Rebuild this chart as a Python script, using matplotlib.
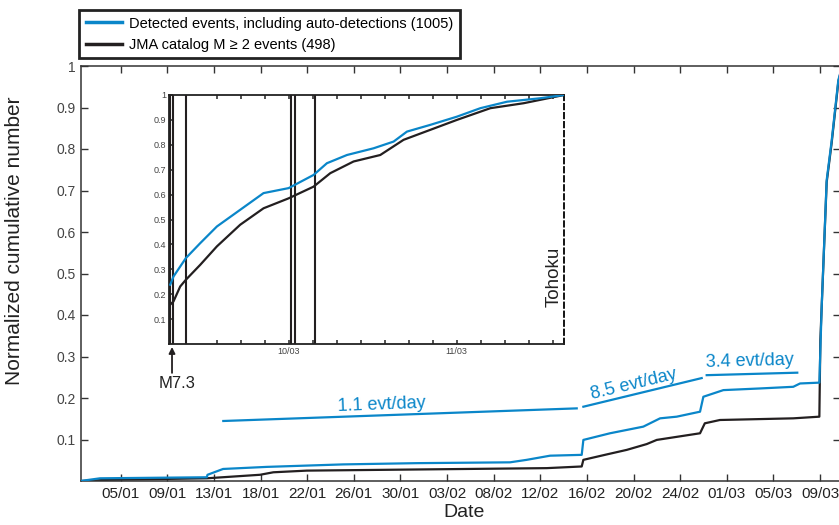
import matplotlib.pyplot as plt
import numpy as np

plt.rcParams['font.family'] = ['Liberation Sans', 'DejaVu Sans']

blue = '#0a86c9'
black = '#231f20'

# main panel: time in days (1 Jan 2011 = 1), normalized cumulative number
det_day = [1.36, 3.14, 12.75, 12.82, 14.22, 18.15, 25.03, 31.67, 40.07, 41.58,
           43.68, 46.53, 46.68, 49.08, 52.08, 53.59, 55.09, 57.19, 57.49, 59.29,
           62.59, 65.59, 66.2, 67.94, 68.15, 68.6, 69.05, 69.65, 70.0]
det_val = [0.0, 0.0065, 0.009, 0.015, 0.029, 0.034, 0.040, 0.043, 0.045, 0.051,
           0.061, 0.063, 0.099, 0.115, 0.131, 0.151, 0.155, 0.167, 0.203, 0.219,
           0.223, 0.227, 0.235, 0.237, 0.42, 0.725, 0.82, 0.966, 1.0]
jma_day = [1.36, 4.04, 12.75, 17.55, 18.75, 21.76, 43.38, 46.53, 46.68, 48.78,
           50.59, 52.39, 53.29, 57.19, 57.62, 58.98, 65.59, 67.94, 68.03, 68.6,
           69.05, 69.65, 70.0]
jma_val = [0.0, 0.003, 0.0065, 0.015, 0.021, 0.025, 0.031, 0.035, 0.051, 0.064,
           0.075, 0.089, 0.099, 0.115, 0.139, 0.147, 0.151, 0.155, 0.34, 0.72,
           0.815, 0.962, 1.0]

date_labels = ['05/01', '09/01', '13/01', '18/01', '22/01', '26/01', '30/01', '03/02',
               '08/02', '12/02', '16/02', '20/02', '24/02', '01/03', '05/03', '09/03']
date_ticks = 5 + 4.2 * np.arange(len(date_labels))

# rate fits drawn on the main panel
rate_labels = ['1.1 evt/day', '8.5 evt/day', '3.4 evt/day']
rate_day = [(14.24, 46.08), (46.68, 57.34), (57.79, 65.95)]
rate_val = [(0.1446, 0.175), (0.179, 0.248), (0.255, 0.261)]
rate_txt_pos = [(28.5, 0.184), (51.2, 0.232), (61.7, 0.289)]
rate_txt_rot = [2.1, 13.5, 1.5]

# inset: hours after 9 March 00:00
ins_det_h = [7.10, 7.57, 9.34, 11.39, 13.77, 17.10, 20.43, 24.01, 27.58, 29.48,
             32.34, 36.15, 39.01, 40.91, 44.24, 48.05, 51.39, 55.2, 59.96, 63.34]
ins_det_v = [0.238, 0.271, 0.345, 0.405, 0.472, 0.539, 0.606, 0.626, 0.679, 0.726,
             0.759, 0.786, 0.813, 0.853, 0.880, 0.913, 0.947, 0.973, 0.987, 1.0]
ins_jma_h = [7.10, 7.57, 8.53, 9.34, 11.39, 13.77, 17.10, 20.43, 24.01, 27.58,
             29.96, 33.29, 37.10, 40.43, 44.24, 48.05, 52.82, 57.58, 63.34]
ins_jma_v = [0.158, 0.171, 0.231, 0.258, 0.318, 0.392, 0.479, 0.545, 0.585, 0.632,
             0.686, 0.733, 0.759, 0.820, 0.860, 0.900, 0.947, 0.967, 1.0]
big_eq_h = [7.10, 7.55, 9.32, 24.34, 24.96, 27.82]
ins_labels = {24: '10/03', 48: '11/03'}

fig = plt.figure(figsize=(8.39, 5.25), dpi=100)
ax = fig.add_axes([81 / 839, 44 / 525, 759 / 839, 415 / 525])

l1, = ax.plot(det_day, det_val, color=blue, lw=1.6, zorder=3)
l2, = ax.plot(jma_day, jma_val, color=black, lw=1.6, zorder=2)

for (d0, d1), (v0, v1), lab, pos, rot in zip(rate_day, rate_val, rate_labels,
                                             rate_txt_pos, rate_txt_rot):
    ax.plot([d0, d1], [v0, v1], color=blue, lw=1.6)
    ax.text(pos[0], pos[1], lab, color=blue, fontsize=13, rotation=rot,
            ha='center', va='center', rotation_mode='anchor')

ax.set_xlim(1.42, 69.8)
ax.set_ylim(0, 1)
ax.set_xticks(date_ticks)
ax.set_xticklabels(date_labels, fontsize=11, color='#222222')
ax.set_yticks(np.arange(1, 11) / 10)
ax.set_yticklabels(['0.1', '0.2', '0.3', '0.4', '0.5', '0.6', '0.7', '0.8', '0.9', '1'],
                   fontsize=10, color='#444444')
ax.tick_params(direction='in', length=5, width=1, top=True, right=True, pad=4,
               color='#333333')
for s in ['left', 'bottom', 'top']:
    ax.spines[s].set_linewidth(1.1)
    ax.spines[s].set_color('#333333')
ax.spines['right'].set_visible(False)

ax.set_xlabel('Date', fontsize=14, color='#222222', va='center')
ax.set_ylabel('Normalized cumulative number', fontsize=15, color='#222222')
ax.xaxis.set_label_coords(0.505, -0.075)
ax.yaxis.set_label_coords(-0.075, 0.58)

leg = fig.legend([l1, l2], ['Detected events, including auto-detections (1005)',
                            'JMA catalog M \u2265 2 events (498)'],
                 loc='upper left', bbox_to_anchor=(79 / 839, 1 - 10 / 525),
                 borderaxespad=0, fontsize=10.5, handlelength=2.5,
                 handletextpad=0.5, borderpad=0.45, labelspacing=0.5,
                 fancybox=False, framealpha=1)
leg.get_frame().set_edgecolor('#222222')
leg.get_frame().set_linewidth(2)
for line in leg.get_lines():
    line.set_linewidth(2.5)

# inset
axi = fig.add_axes([169 / 839, (525 - 344) / 525, 395 / 839, 249 / 525])
for h in big_eq_h:
    axi.axvline(h, color=black, lw=1.5, zorder=1)
axi.plot(ins_det_h, ins_det_v, color=blue, lw=1.6, zorder=3)
axi.plot(ins_jma_h, ins_jma_v, color=black, lw=1.6, zorder=2)
axi.set_xlim(6.93, 63.34)
axi.set_ylim(0, 1)
ins_ticks = 24 + 24 / 7 * np.arange(-3, 12)
axi.set_xticks(ins_ticks)
axi.set_xticklabels([ins_labels.get(int(round(t)), '') if abs(t - round(t)) < 1e-6 else ''
                     for t in ins_ticks], fontsize=6.5, color='#444444')
axi.set_yticks(np.arange(1, 11) / 10)
axi.set_yticklabels(['0.1', '0.2', '0.3', '0.4', '0.5', '0.6', '0.7', '0.8', '0.9', '1'],
                    fontsize=6.5, color='#444444')
axi.tick_params(direction='in', length=3, width=1.1, top=True, pad=2, color='#222222')
for s in ['left', 'bottom', 'top']:
    axi.spines[s].set_linewidth(1.3)
    axi.spines[s].set_color('#222222')
axi.spines['right'].set_linestyle((0, (3, 2)))
axi.spines['right'].set_linewidth(1.3)

axi.text(62.0, 0.27, 'Tohoku', rotation=90, fontsize=13.5, color='#222222',
         ha='center', va='center')
axi.annotate('', xy=(7.36, -0.012), xycoords=('data', 'axes fraction'),
             xytext=(7.36, -0.116), textcoords=('data', 'axes fraction'),
             arrowprops=dict(arrowstyle='-|>', color=black, lw=1.3,
                             mutation_scale=9, shrinkA=0, shrinkB=0),
             annotation_clip=False)
axi.text(8.08, -0.16, 'M7.3', transform=axi.get_xaxis_transform(),
         fontsize=12, color='#222222', ha='center', va='center')

fig.savefig('out.png', dpi=100)
